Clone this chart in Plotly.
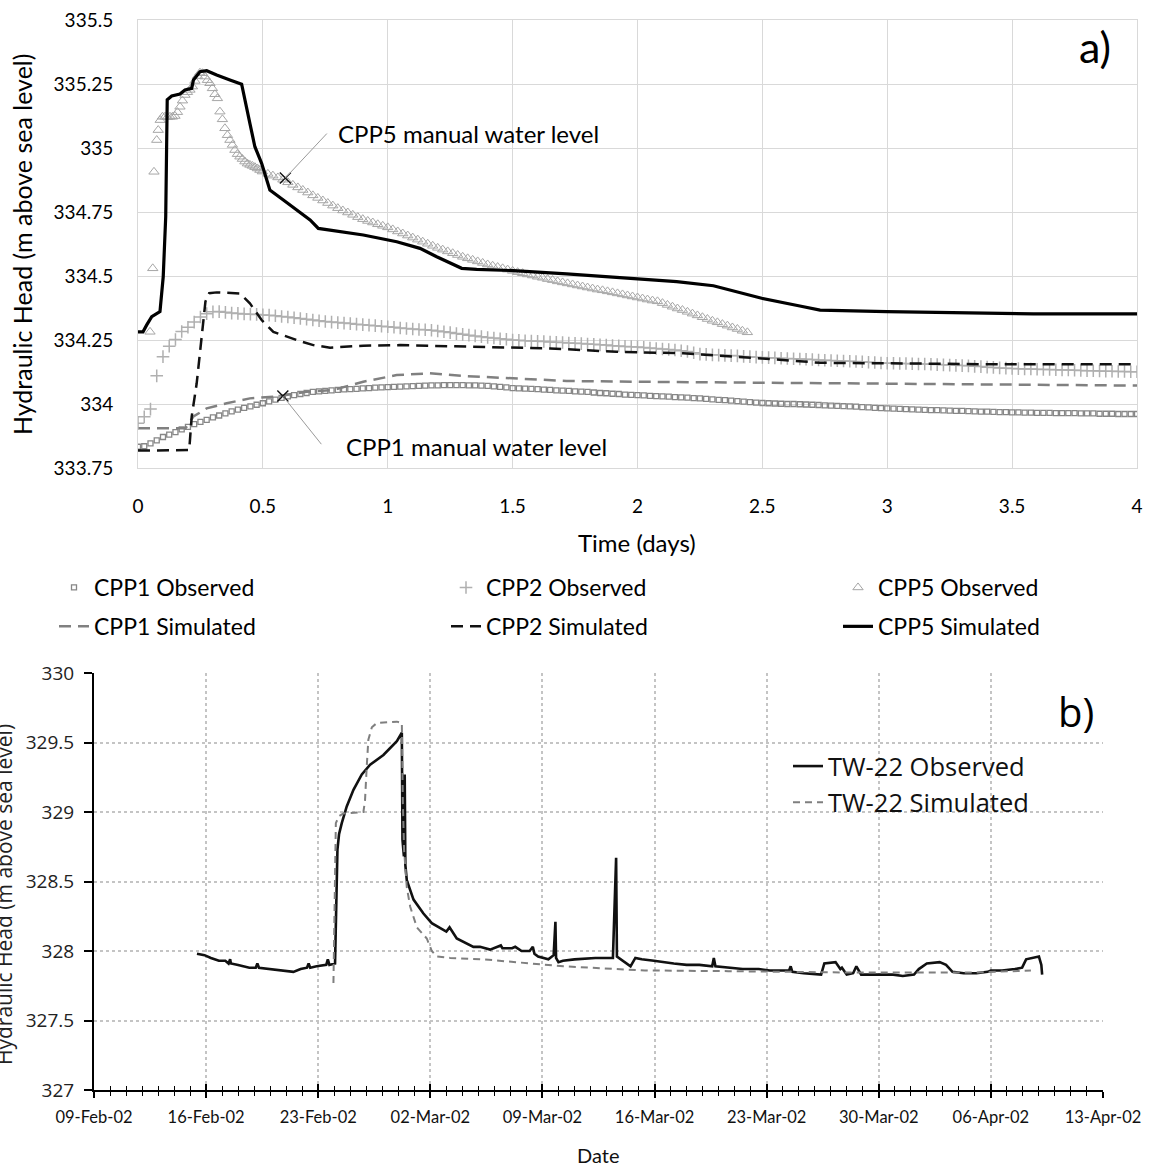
import numpy as np
import pandas as pd
import plotly.graph_objects as go

W, H = 1151, 1170
def fx(p): return p / W
def fy(p): return 1 - p / H

# ======================= panel a) data =======================
time_ticks = [0, 0.5, 1, 1.5, 2, 2.5, 3, 3.5, 4]
time_tick_labels = ["0", "0.5", "1", "1.5", "2", "2.5", "3", "3.5", "4"]
head_a_ticks = [333.75, 334, 334.25, 334.5, 334.75, 335, 335.25, 335.5]
head_a_tick_labels = ["333.75", "334", "334.25", "334.5", "334.75", "335", "335.25", "335.5"]

obs_interval = 0.025  # days between logger readings (CPP1 / CPP2)
cpp1_obs = [
    333.833, 333.835, 333.846, 333.858, 333.871, 333.880, 333.890, 333.901, 333.911, 333.921,
    333.930, 333.938, 333.948, 333.955, 333.963, 333.971, 333.978, 333.985, 333.991, 333.997,
    334.003, 334.010, 334.017, 334.024, 334.030, 334.035, 334.039, 334.043, 334.047, 334.049,
    334.051, 334.053, 334.055, 334.057, 334.058, 334.059, 334.061, 334.062, 334.064, 334.065,
    334.066, 334.067, 334.068, 334.069, 334.070, 334.071, 334.072, 334.073, 334.073, 334.074,
    334.074, 334.074, 334.074, 334.073, 334.073, 334.072, 334.071, 334.069, 334.067, 334.065,
    334.062, 334.061, 334.060, 334.059, 334.058, 334.056, 334.055, 334.053, 334.052, 334.051,
    334.049, 334.048, 334.047, 334.045, 334.043, 334.042, 334.040, 334.039, 334.037, 334.036,
    334.035, 334.034, 334.032, 334.031, 334.030, 334.029, 334.027, 334.026, 334.025, 334.023,
    334.022, 334.020, 334.018, 334.016, 334.015, 334.013, 334.011, 334.009, 334.007, 334.005,
    334.004, 334.003, 334.002, 334.001, 334.000, 334.000, 333.999, 333.998, 333.997, 333.996,
    333.995, 333.994, 333.993, 333.992, 333.991, 333.990, 333.988, 333.987, 333.985, 333.984,
    333.983, 333.982, 333.981, 333.980, 333.979, 333.978, 333.977, 333.976, 333.976, 333.975,
    333.974, 333.973, 333.973, 333.972, 333.971, 333.970, 333.970, 333.969, 333.968, 333.968,
    333.967, 333.967, 333.966, 333.966, 333.965, 333.965, 333.965, 333.964, 333.964, 333.964,
    333.964, 333.963, 333.963, 333.963, 333.962, 333.962, 333.962, 333.961, 333.961, 333.961,
    333.961,
]
cpp2_obs = [
    333.925, 333.950, 333.980, 334.110, 334.185, 334.226, 334.252, 334.283, 334.300, 334.320,
    334.340, 334.353, 334.360, 334.361, 334.358, 334.355, 334.354, 334.352, 334.351, 334.350,
    334.348, 334.347, 334.345, 334.342, 334.340, 334.337, 334.334, 334.331, 334.328, 334.325,
    334.322, 334.320, 334.318, 334.316, 334.314, 334.312, 334.310, 334.308, 334.306, 334.304,
    334.302, 334.300, 334.297, 334.295, 334.293, 334.291, 334.290, 334.288, 334.285, 334.282,
    334.279, 334.275, 334.272, 334.269, 334.266, 334.263, 334.260, 334.258, 334.255, 334.253,
    334.250, 334.249, 334.247, 334.246, 334.245, 334.244, 334.242, 334.241, 334.240, 334.238,
    334.237, 334.236, 334.234, 334.233, 334.231, 334.230, 334.228, 334.227, 334.225, 334.224,
    334.223, 334.221, 334.219, 334.217, 334.215, 334.213, 334.211, 334.208, 334.205, 334.200,
    334.195, 334.194, 334.192, 334.191, 334.190, 334.189, 334.188, 334.186, 334.185, 334.183,
    334.182, 334.181, 334.180, 334.179, 334.178, 334.177, 334.176, 334.175, 334.174, 334.172,
    334.171, 334.170, 334.169, 334.168, 334.167, 334.166, 334.165, 334.163, 334.162, 334.160,
    334.159, 334.159, 334.158, 334.158, 334.157, 334.156, 334.156, 334.155, 334.154, 334.153,
    334.152, 334.151, 334.150, 334.149, 334.147, 334.146, 334.144, 334.143, 334.141, 334.140,
    334.139, 334.138, 334.137, 334.137, 334.136, 334.135, 334.135, 334.134, 334.133, 334.133,
    334.132, 334.131, 334.130, 334.130, 334.129, 334.128, 334.128, 334.127, 334.127, 334.126,
    334.126,
]
obs_time = np.round(np.arange(len(cpp1_obs)) * obs_interval, 3)

cpp5_obs_t_early = [
    0.048, 0.059, 0.064, 0.075, 0.081, 0.089,
    0.098, 0.108, 0.118, 0.128, 0.138, 0.148, 0.158, 0.168, 0.178, 0.188,
    0.198, 0.208, 0.218, 0.228, 0.238, 0.248, 0.258, 0.268, 0.278, 0.288,
    0.298, 0.308, 0.318, 0.328, 0.338, 0.348, 0.358, 0.368, 0.378, 0.388,
    0.398, 0.408, 0.418, 0.428, 0.438, 0.448, 0.458, 0.468, 0.478, 0.488, 0.498,
]
cpp5_obs_early = [
    334.282, 334.530, 334.907, 335.031, 335.070, 335.109,
    335.122, 335.122, 335.120, 335.122, 335.122, 335.125, 335.140, 335.161, 335.185, 335.207,
    335.218, 335.227, 335.240, 335.262, 335.281, 335.294, 335.292, 335.279, 335.265, 335.253,
    335.233, 335.210, 335.194, 335.142, 335.112, 335.077, 335.050, 335.031, 335.012, 334.992,
    334.976, 334.966, 334.957, 334.947, 334.939, 334.934, 334.930, 334.925, 334.920, 334.914, 334.908,
]
cpp5_late_start, cpp5_late_interval = 0.52, 0.02
cpp5_obs_late = [
    334.899, 334.892, 334.885, 334.876, 334.866, 334.856, 334.846, 334.836, 334.826, 334.815,
    334.805, 334.795, 334.785, 334.775, 334.765, 334.756, 334.748, 334.739, 334.730, 334.722,
    334.715, 334.709, 334.702, 334.696, 334.690, 334.682, 334.674, 334.666, 334.658, 334.650,
    334.642, 334.634, 334.626, 334.618, 334.610, 334.603, 334.596, 334.589, 334.582, 334.575,
    334.569, 334.563, 334.557, 334.551, 334.545, 334.540, 334.535, 334.530, 334.525, 334.520,
    334.515, 334.511, 334.506, 334.502, 334.497, 334.493, 334.488, 334.484, 334.479, 334.475,
    334.471, 334.467, 334.463, 334.459, 334.455, 334.451, 334.447, 334.444, 334.440, 334.436,
    334.432, 334.428, 334.424, 334.420, 334.416, 334.412, 334.408, 334.404, 334.401, 334.394,
    334.387, 334.380, 334.373, 334.367, 334.360, 334.353, 334.346, 334.339, 334.332, 334.325,
    334.319, 334.312, 334.306, 334.299, 334.293, 334.286, 334.280,
]
cpp5_obs_t = list(cpp5_obs_t_early) + list(np.round(cpp5_late_start + cpp5_late_interval * np.arange(len(cpp5_obs_late)), 3))
cpp5_obs = cpp5_obs_early + cpp5_obs_late

cpp1_sim_t = [0, 0.19, 0.222, 0.275, 0.355, 0.448, 0.555, 0.675, 0.782, 0.902, 1.036, 1.169,
              1.316, 1.503, 1.716, 1.983, 2.25, 2.65, 3.0, 4.0]
cpp1_sim = [333.905, 333.905, 333.951, 333.983, 334.003, 334.022, 334.029, 334.048, 334.055, 334.087,
            334.113, 334.120, 334.109, 334.100, 334.090, 334.087, 334.085, 334.081, 334.078, 334.072]

cpp2_sim_t = [0, 0.1, 0.205, 0.215, 0.235, 0.255, 0.27, 0.285, 0.315, 0.408, 0.448, 0.495, 0.542,
              0.635, 0.702, 0.769, 0.902, 1.049, 1.316, 1.65, 1.916, 2.183, 2.497, 2.731, 2.998, 3.45, 4.0]
cpp2_sim = [333.818, 333.818, 333.820, 333.951, 334.081, 334.263, 334.400, 334.433, 334.436, 334.432,
            334.393, 334.328, 334.282, 334.250, 334.230, 334.220, 334.228, 334.230, 334.224, 334.217,
            334.204, 334.198, 334.178, 334.161, 334.159, 334.155, 334.155]

cpp5_sim_t = [0, 0.02, 0.035, 0.055, 0.088, 0.101, 0.111, 0.117, 0.135, 0.168, 0.188, 0.215, 0.222,
              0.248, 0.275, 0.315, 0.368, 0.415, 0.448, 0.468, 0.495, 0.528, 0.582, 0.635, 0.689,
              0.722, 0.769, 0.902, 1.036, 1.129, 1.196, 1.296, 1.356, 1.503, 1.716, 1.983, 2.157,
              2.304, 2.45, 2.497, 2.65, 2.731, 2.998, 3.585, 4.0]
cpp5_sim = [334.282, 334.282, 334.309, 334.341, 334.361, 334.497, 334.732, 335.188, 335.203, 335.211,
            335.227, 335.233, 335.266, 335.298, 335.302, 335.285, 335.266, 335.249, 335.096, 335.005,
            334.940, 334.836, 334.797, 334.758, 334.719, 334.686, 334.680, 334.660, 334.634, 334.608,
            334.575, 334.530, 334.526, 334.521, 334.508, 334.488, 334.478, 334.462, 334.425, 334.413,
            334.383, 334.367, 334.361, 334.352, 334.352]

manual_labels = ["CPP5 manual water level", "CPP1 manual water level"]
manual_t = [0.59, 0.58]
manual_v = [334.883, 334.031]

# ======================= panel b) data =======================
base_date = pd.Timestamp("2002-02-09")
date_tick_start, date_tick_end = "2002-02-09", "2002-04-13"
head_b_ticks = [327, 327.5, 328, 328.5, 329, 329.5, 330]
head_b_tick_labels = ["327", "327.5", "328", "328.5", "329", "329.5", "330"]

tw22_obs_day = [6.43, 6.9, 7.3, 7.8, 8.2, 8.4, 8.5, 8.55, 9.0, 9.7, 10.1, 10.2, 10.3, 11.0, 12.0, 12.45,
                12.9, 13.3, 13.4, 13.5, 13.9, 14.5, 14.6, 14.7, 15.05, 15.1, 15.15, 15.2, 15.3, 15.47,
                15.78, 16.2, 16.72, 17.24, 18.07, 18.5, 18.91, 19.22, 19.26, 19.35, 19.4, 19.44, 19.53,
                19.95, 20.57, 21.09, 21.82, 22.0, 22.2, 22.65, 23.69, 24.1, 24.73, 25.4, 25.5, 26.1,
                26.3, 26.7, 27.2, 27.4, 27.5, 27.73, 28.37, 28.7, 28.81, 28.85, 29.0, 29.28, 30.0,
                31.3, 32.4, 32.6, 32.65, 32.9, 33.5, 33.8, 34.2, 34.96, 35.8, 36.2, 37.0, 37.8, 38.6,
                38.7, 38.8, 39.6, 40.5, 41.5, 42.2, 43.4, 43.5, 43.6, 44.3, 45.4, 45.6, 46.3, 46.6,
                46.7, 47.0, 47.4, 47.6, 47.9, 49.0, 49.9, 50.5, 51.2, 51.5, 52.0, 52.8, 53.2, 53.6,
                54.3, 55.1, 55.8, 56.0, 56.7, 57.5, 57.95, 58.2, 58.6, 59.0, 59.15, 59.2]
tw22_obs = [327.98, 327.97, 327.95, 327.93, 327.93, 327.91, 327.94, 327.91, 327.90, 327.88, 327.88,
            327.91, 327.88, 327.87, 327.86, 327.85, 327.87, 327.88, 327.91, 327.88, 327.89, 327.90,
            327.94, 327.90, 327.91, 328.30, 328.56, 328.73, 328.84, 328.92, 329.04, 329.16, 329.27,
            329.34, 329.41, 329.46, 329.51, 329.57, 328.80, 328.68, 329.27, 328.62, 328.51, 328.37,
            328.27, 328.20, 328.15, 328.14, 328.17, 328.09, 328.03, 328.03, 328.01, 328.04, 328.02,
            328.02, 328.03, 328.00, 328.00, 328.03, 327.98, 327.96, 327.94, 327.97, 328.21, 327.95,
            327.92, 327.93, 327.94, 327.95, 327.95, 328.67, 327.96, 327.94, 327.89, 327.95, 327.94,
            327.93, 327.92, 327.91, 327.90, 327.90, 327.89, 327.95, 327.89, 327.88, 327.87, 327.87,
            327.86, 327.86, 327.89, 327.85, 327.84, 327.83, 327.91, 327.92, 327.87, 327.88, 327.83,
            327.84, 327.89, 327.83, 327.83, 327.83, 327.82, 327.83, 327.87, 327.91, 327.92, 327.90,
            327.85, 327.84, 327.84, 327.85, 327.86, 327.86, 327.87, 327.88, 327.94, 327.95, 327.96,
            327.90, 327.83]

tw22_sim_day = [14.95, 15.0, 15.05, 15.1, 15.3, 15.57, 16.82, 16.92, 17.03, 17.13, 17.35, 17.66, 18.91,
                19.22, 19.28, 19.36, 19.53, 19.74, 20.16, 20.78, 21.09, 21.41, 22.24, 24.3, 29.3, 34.4,
                39.6, 47.3, 55.1, 58.5]
tw22_sim = [327.77, 328.30, 328.75, 328.92, 328.97, 328.99, 329.00, 329.08, 329.33, 329.52, 329.61,
            329.64, 329.65, 329.64, 329.09, 328.73, 328.46, 328.32, 328.17, 328.09, 328.00, 327.96,
            327.95, 327.94, 327.89, 327.86, 327.855, 327.845, 327.845, 327.86]

tw22_obs_date = base_date + pd.to_timedelta(tw22_obs_day, unit="D")
tw22_sim_date = base_date + pd.to_timedelta(tw22_sim_day, unit="D")

# ======================= figure =======================
FA = "Lato"
FB = "Open Sans"
fig = go.Figure()

fig.add_trace(go.Scatter(x=obs_time, y=cpp1_obs, mode="markers", name="CPP1 Observed",
                         marker=dict(symbol="square-open", size=5, color="#878787", line=dict(width=1.3)),
                         legend="legend", legendgroup="a1"))
fig.add_trace(go.Scatter(x=cpp1_sim_t, y=cpp1_sim, mode="lines", name="CPP1 Simulated",
                         line=dict(color="#808080", width=2.5, dash="12px,7px"),
                         legend="legend", legendgroup="a2"))
fig.add_trace(go.Scatter(x=obs_time, y=cpp2_obs, mode="markers", name="CPP2 Observed",
                         marker=dict(symbol="cross-thin", size=9, color="#b0b0b0",
                                     line=dict(width=1.5, color="#b0b0b0")),
                         legend="legend2", legendgroup="b1"))
fig.add_trace(go.Scatter(x=cpp2_sim_t, y=cpp2_sim, mode="lines", name="CPP2 Simulated",
                         line=dict(color="#111111", width=2.5, dash="12px,7px"),
                         legend="legend2", legendgroup="b2"))
fig.add_trace(go.Scatter(x=cpp5_obs_t, y=cpp5_obs, mode="markers", name="CPP5 Observed",
                         marker=dict(symbol="triangle-up-open", size=9, color="#a6a6a6", line=dict(width=1)),
                         legend="legend3", legendgroup="c1"))
fig.add_trace(go.Scatter(x=cpp5_sim_t, y=cpp5_sim, mode="lines", name="CPP5 Simulated",
                         line=dict(color="#000000", width=3.2),
                         legend="legend3", legendgroup="c2"))
fig.add_trace(go.Scatter(x=manual_t, y=manual_v, mode="markers", showlegend=False,
                         marker=dict(symbol="x-thin", size=11, color="#111",
                                     line=dict(width=1.4, color="#111"))))

fig.add_trace(go.Scatter(x=tw22_obs_date, y=tw22_obs, mode="lines", name="TW-22 Observed",
                         line=dict(color="#111111", width=2.6), xaxis="x2", yaxis="y2",
                         legend="legend4", legendgroup="d1"))
fig.add_trace(go.Scatter(x=tw22_sim_date, y=tw22_sim, mode="lines", name="TW-22 Simulated",
                         line=dict(color="#7f7f7f", width=2, dash="7px,5px"), xaxis="x2", yaxis="y2",
                         legend="legend4", legendgroup="d2"))
fig.add_trace(go.Scatter(x=[], y=[], xaxis="x3", yaxis="y2", showlegend=False))

grid_a = "#d9d9d9"
leg_font_a = dict(family=FA, size=23, color="#000")
fig.update_layout(
    width=W, height=H, margin=dict(l=0, r=0, t=0, b=0),
    paper_bgcolor="white", plot_bgcolor="white", showlegend=True,
    xaxis=dict(domain=[fx(138), fx(1137)], range=[0, 4], tickvals=time_ticks, ticktext=time_tick_labels,
               showgrid=True, gridcolor=grid_a, gridwidth=1, zeroline=False, showline=True,
               linecolor=grid_a, linewidth=1, mirror=True, ticks="", ticklabelstandoff=21,
               tickfont=dict(family=FA, size=19, color="#000"), anchor="y", automargin=False),
    yaxis=dict(domain=[fy(468), fy(20)], range=[333.75, 335.5], tickvals=head_a_ticks,
               ticktext=head_a_tick_labels, showgrid=True, gridcolor=grid_a, gridwidth=1,
               zeroline=False, showline=True, linecolor=grid_a, linewidth=1, mirror=True, ticks="",
               ticklabelstandoff=20, tickfont=dict(family=FA, size=19, color="#000"), anchor="x",
               automargin=False),
    xaxis2=dict(domain=[fx(94), fx(1103)], type="date", range=[date_tick_start, date_tick_end],
                tick0=date_tick_start, dtick=7 * 86400000, tickformat="%d-%b-%y",
                showgrid=True, gridcolor="#c4c4c4", griddash="dot", gridwidth=1.5, zeroline=False,
                showline=True, linecolor="#000", linewidth=2, ticks="outside", ticklen=6, tickwidth=2,
                tickcolor="#000", minor=dict(dtick=86400000, ticks="outside", ticklen=4, tickwidth=1,
                                             tickcolor="#000", showgrid=False),
                ticklabelstandoff=5, tickfont=dict(family=FA, size=16.5, color="#111"), anchor="y2",
                automargin=False),
    xaxis3=dict(overlaying="x2", anchor="y2", type="date", range=[date_tick_start, date_tick_end],
                tick0=date_tick_start, dtick=7 * 86400000, showgrid=False, zeroline=False,
                showline=False, showticklabels=False, ticks="inside", ticklen=6, tickwidth=2,
                tickcolor="#000", minor=dict(dtick=86400000, ticks="inside", ticklen=4, tickwidth=1,
                                             tickcolor="#000", showgrid=False), automargin=False),
    yaxis2=dict(domain=[fy(1090), fy(673)], range=[327, 330], tickvals=head_b_ticks,
                ticktext=head_b_tick_labels, showgrid=True, gridcolor="#c4c4c4", griddash="dot",
                gridwidth=1.5, zeroline=False, showline=True, linecolor="#000", linewidth=2,
                ticks="outside", ticklen=8, tickwidth=2, tickcolor="#000", ticklabelstandoff=6,
                tickfont=dict(family=FB, size=19, color="#222"), anchor="x2", automargin=False),
    legend=dict(x=fx(54), y=fy(566), xanchor="left", yanchor="top", traceorder="grouped",
                tracegroupgap=6, bgcolor="rgba(0,0,0,0)", font=leg_font_a),
    legend2=dict(x=fx(446), y=fy(566), xanchor="left", yanchor="top", traceorder="grouped",
                 tracegroupgap=6, bgcolor="rgba(0,0,0,0)", font=leg_font_a),
    legend3=dict(x=fx(838), y=fy(566), xanchor="left", yanchor="top", traceorder="grouped",
                 tracegroupgap=6, bgcolor="rgba(0,0,0,0)", font=leg_font_a),
    legend4=dict(x=fx(788), y=fy(743), xanchor="left", yanchor="top", traceorder="grouped",
                 tracegroupgap=0, bgcolor="rgba(0,0,0,0)", font=dict(family=FB, size=25.5, color="#111")),
)

ann = [
    dict(text="Time (days)", x=fx(637), y=fy(542), font=dict(family=FA, size=24, color="#000")),
    dict(text="Hydraulic Head (m above sea level)", x=fx(22), y=fy(245), textangle=-90,
         font=dict(family=FA, size=25, color="#000")),
    dict(text="a)", x=fx(1095), y=fy(47), font=dict(family=FA, size=43, color="#000")),
    dict(text="Date", x=fx(598), y=fy(1155), font=dict(family=FA, size=20, color="#111")),
    dict(text="Hydraulic Head (m above sea level)", x=fx(4), y=fy(895), textangle=-90,
         font=dict(family=FB, size=21, color="#222")),
    dict(text="b)", x=fx(1076), y=fy(712), font=dict(family=FB, size=40, color="#000")),
    dict(text=manual_labels[0], x=fx(336), y=fy(133), xanchor="left",
         font=dict(family=FA, size=24, color="#000")),
    dict(text=manual_labels[1], x=fx(344), y=fy(447), xanchor="left",
         font=dict(family=FA, size=24, color="#000")),
]
for a in ann:
    a.setdefault("xref", "paper"); a.setdefault("yref", "paper")
    a.setdefault("xanchor", "center"); a.setdefault("yanchor", "middle")
    a["showarrow"] = False
    fig.add_annotation(**a)

for (t, v, ax, ay) in [(manual_t[0], manual_v[0], 43, -46), (manual_t[1], manual_v[1], 40, 50)]:
    fig.add_annotation(x=t, y=v, xref="x", yref="y", text=" ", font=dict(size=1),
                       showarrow=True, arrowhead=0, arrowwidth=1, arrowcolor="#9a9a9a",
                       ax=ax, ay=ay, standoff=0, startstandoff=0)

fig.write_html("out.html", config={"displayModeBar": False},
               post_script="document.body.style.margin='0px';document.body.style.overflow='hidden';")
